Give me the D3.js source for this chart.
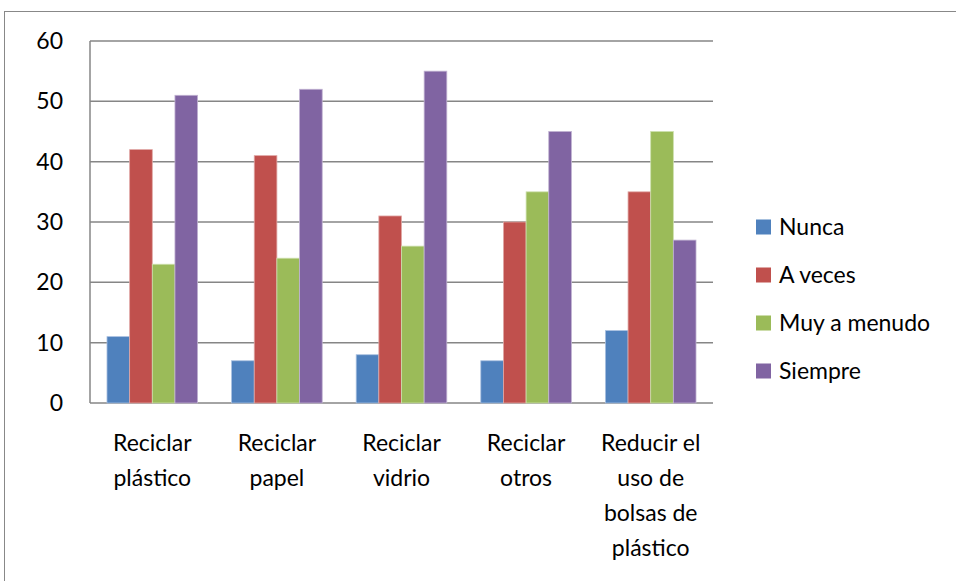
<!DOCTYPE html>
<html><head><meta charset="utf-8">
<script src="https://cdn.jsdelivr.net/npm/d3@7"></script>
<style>body{margin:0;background:#fff}svg{display:block}text{font-family:Lato,"Open Sans",sans-serif;fill:#000}</style>
</head><body><svg id="c" width="956" height="581"></svg>
<script>
const categories = [["Reciclar","plástico"],["Reciclar","papel"],["Reciclar","vidrio"],["Reciclar","otros"],["Reducir el","uso de","bolsas de","plástico"]];
const seriesNames = ["Nunca","A veces","Muy a menudo","Siempre"];
const nunca = [11,7,8,7,12];
const aVeces = [42,41,31,30,35];
const muyAMenudo = [23,24,26,35,45];
const siempre = [51,52,55,45,27];
const yTicks = [0,10,20,30,40,50,60];
const colors = ["#4F81BD","#C0504D","#9BBB59","#8064A2"];
const edges = ["#a9c0e0","#e0a8a6","#cde0ad","#c0b2d2"];
const series = [nunca,aVeces,muyAMenudo,siempre];
const FS = 23;

const svg = d3.select("#c");
const L=90, R=713, T=41, B=403;
svg.append("rect").attr("x",4.5).attr("y",11.5).attr("width",1000).attr("height",1000)
  .attr("fill","none").attr("stroke","#888").attr("stroke-width",1);

const x0 = d3.scaleBand().domain(d3.range(categories.length)).range([L,R]).paddingInner(1.5/5.5).paddingOuter(0.75/5.5);
const x1 = d3.scaleBand().domain(d3.range(seriesNames.length)).range([0,x0.bandwidth()]);
const y = d3.scaleLinear().domain([0,60]).range([B,T]);

const grid = svg.append("g");
grid.selectAll("line").data(yTicks).join("line")
  .attr("x1",L).attr("x2",R).attr("y1",d=>y(d)).attr("y2",d=>y(d))
  .attr("stroke","#868686").attr("stroke-width",1.5);
svg.append("line").attr("x1",L).attr("x2",L).attr("y1",T).attr("y2",B).attr("stroke","#868686").attr("stroke-width",1.5);

const yAxis = d3.axisLeft(y).tickValues(yTicks).tickSize(0).tickPadding(27);
const ya = svg.append("g").attr("transform",`translate(${L},0)`).call(yAxis);
ya.select(".domain").remove();
ya.selectAll("text").attr("font-size",FS).style("font-family","Lato");

const g = svg.append("g");
series.forEach((vals,si)=>{
  g.append("g").selectAll("rect").data(vals).join("rect")
    .attr("x",(d,i)=>x0(i)+x1(si)).attr("width",x1.bandwidth())
    .attr("y",d=>y(d)).attr("height",d=>B-y(d))
    .attr("fill",colors[si]).attr("stroke",edges[si]).attr("stroke-width",0.8);
});

const xl = svg.append("g");
categories.forEach((lines,i)=>{
  const t = xl.append("text").attr("text-anchor","middle").attr("font-size",FS)
    .attr("x",x0(i)+x0.bandwidth()/2);
  lines.forEach((ln,j)=>t.append("tspan").attr("x",x0(i)+x0.bandwidth()/2).attr("y",451+j*35).text(ln));
});

const leg = svg.append("g");
seriesNames.forEach((n,i)=>{
  const cy = 227 + i*48;
  leg.append("rect").attr("x",756).attr("y",cy-7.5).attr("width",15).attr("height",15).attr("fill",colors[i]);
  leg.append("text").attr("x",779).attr("y",cy).attr("dy","0.35em").attr("font-size",FS).text(n);
});
</script></body></html>
